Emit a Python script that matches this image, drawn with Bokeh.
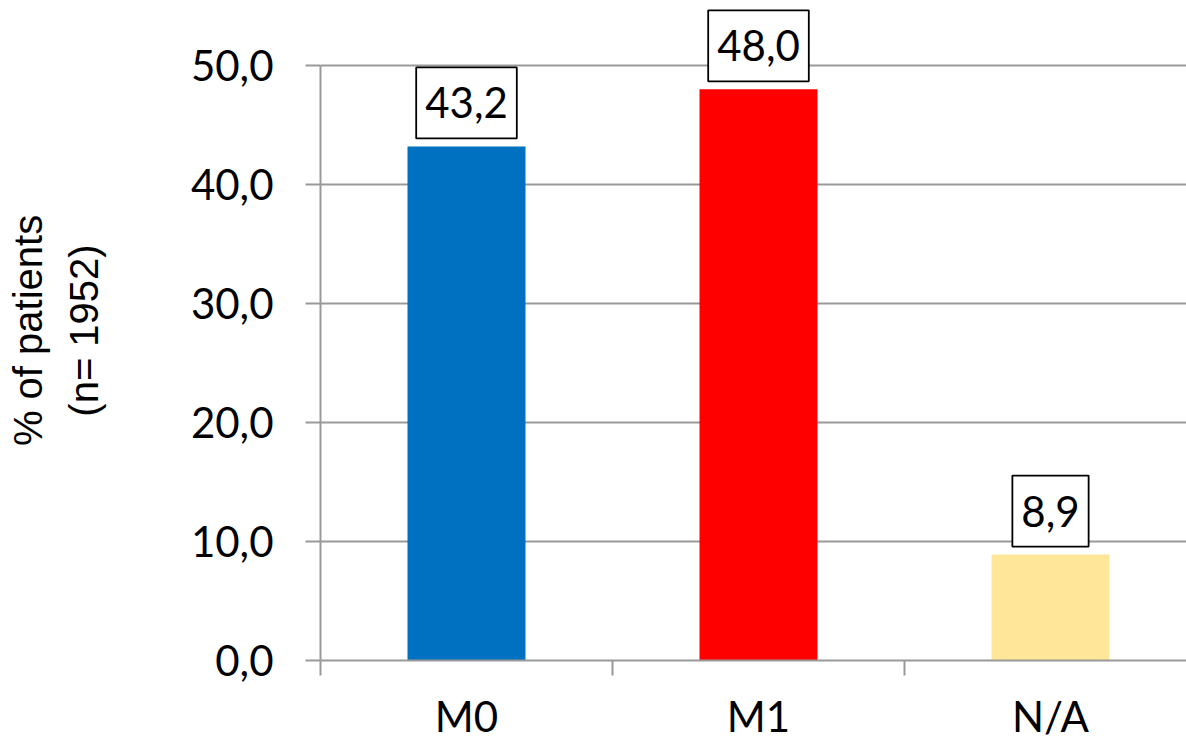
from bokeh.plotting import figure
from bokeh.models import Range1d, FixedTicker, Label
from bokeh.embed import file_html
from bokeh.resources import INLINE

# ---- data ----
categories = ["M0", "M1", "N/A"]
values = [43.2, 48.0, 8.9]
value_labels = ["43,2", "48,0", "8,9"]
bar_colors = ["#0070C0", "#FF0000", "#FFE699"]
y_ticks = [0, 10, 20, 30, 40, 50]
y_tick_labels = ["0,0", "10,0", "20,0", "30,0", "40,0", "50,0"]
y_title = "% of patients\n(n= 1952)"

positions = list(range(1, len(categories) + 1))
boundaries = [p - 0.5 for p in positions] + [positions[-1] + 0.5]

W, H = 1186, 743
left, bottom_px, top_px = 320, 660, 0
px_per_cat = 292.0
px_per_unit = 11.9

x_end = 0.5 + (W - left) / px_per_cat
y_end = (bottom_px - top_px) / px_per_unit

p = figure(width=W, height=H, output_backend="svg", toolbar_location=None,
           x_range=Range1d(0.5, x_end), y_range=Range1d(0, y_end),
           min_border_left=left, min_border_right=0, min_border_top=top_px,
           min_border_bottom=H - bottom_px)
p.outline_line_color = None
p.background_fill_color = "white"
p.border_fill_color = "white"

grid_col = "#999999"

p.vbar(x=positions, top=values, width=118 / px_per_cat, fill_color=bar_colors,
       line_color=None)

# y axis
ya = p.yaxis[0]
ya.ticker = FixedTicker(ticks=y_ticks, minor_ticks=[])
ya.major_label_overrides = {t: s for t, s in zip(y_ticks, y_tick_labels)}
ya.bounds = (0, y_ticks[-1])
ya.axis_line_color = grid_col
ya.axis_line_width = 2
ya.major_tick_line_color = grid_col
ya.major_tick_line_width = 2
ya.major_tick_out = 15
ya.major_tick_in = 0
ya.minor_tick_line_color = None
ya.major_label_standoff = 32
ya.major_label_text_font = "Lato"
ya.major_label_text_font_size = "42px"
ya.major_label_text_color = "black"
ya.axis_label = y_title
ya.axis_label_text_font = "Liberation Sans"
ya.axis_label_text_font_size = "40px"
ya.axis_label_text_font_style = "normal"
ya.axis_label_text_color = "black"
ya.axis_label_text_line_height = 1.27
ya.axis_label_standoff = 82

# x axis
xa = p.xaxis[0]
xa.ticker = FixedTicker(ticks=positions, minor_ticks=boundaries)
xa.major_label_overrides = {t: c for t, c in zip(positions, categories)}
xa.axis_line_color = grid_col
xa.axis_line_width = 2
xa.major_tick_line_color = None
xa.major_tick_out = 0
xa.major_tick_in = 0
xa.minor_tick_line_color = grid_col
xa.minor_tick_line_width = 2
xa.minor_tick_out = 15
xa.minor_tick_in = 0
xa.major_label_standoff = 15
xa.major_label_text_font = "Lato"
xa.major_label_text_font_size = "42px"
xa.major_label_text_color = "black"

p.xgrid.visible = False
p.ygrid.ticker = FixedTicker(ticks=y_ticks)
p.ygrid.grid_line_color = grid_col
p.ygrid.grid_line_width = 2

for xv, v, s in zip(positions, values, value_labels):
    p.add_layout(Label(x=xv, y=v, text=s, text_align="center", text_baseline="bottom",
                       y_offset=8, text_font="Lato", text_font_size="42px",
                       text_color="black", background_fill_color="white",
                       border_line_color="black", border_line_width=1.8,
                       padding=(9, 9, 20, 20)))

open("out.html", "w").write(file_html(p, INLINE))
